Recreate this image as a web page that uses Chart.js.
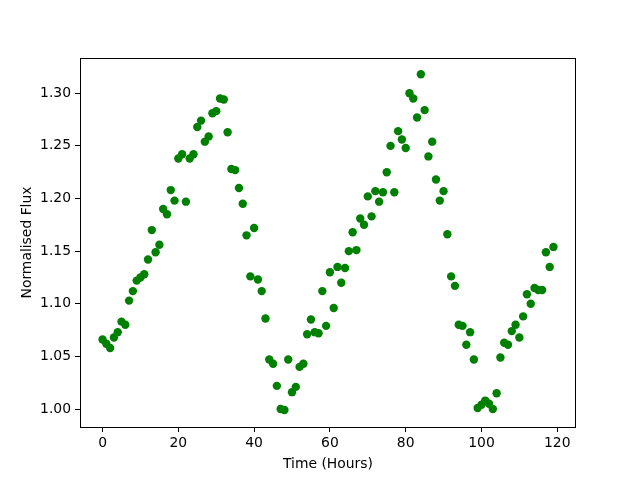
<!DOCTYPE html>
<html>
<head>
<meta charset="utf-8">
<script src="https://cdn.jsdelivr.net/npm/chart.js@4/dist/chart.umd.min.js"></script>
<style>
html,body{margin:0;padding:0;background:#fff;}
#wrap{width:640px;height:480px;}
</style>
</head>
<body>
<div id="wrap"><canvas id="c" width="640" height="480"></canvas></div>
<script>
const hours = [];
for (let h = 0; h < 120; h++) hours.push(h);
const flux = [
1.066,1.062,1.058,1.068,1.073,1.083,1.080,1.103,1.112,1.122,
1.125,1.128,1.142,1.170,1.149,1.156,1.190,1.185,1.208,1.198,
1.238,1.242,1.197,1.238,1.242,1.268,1.274,1.254,1.259,1.281,
1.283,1.295,1.294,1.263,1.228,1.227,1.210,1.195,1.165,1.126,
1.172,1.123,1.112,1.086,1.047,1.043,1.022,1.000,0.999,1.047,
1.016,1.021,1.040,1.043,1.071,1.085,1.073,1.072,1.112,1.079,
1.130,1.096,1.135,1.120,1.134,1.150,1.168,1.151,1.181,1.175,
1.202,1.183,1.207,1.197,1.206,1.225,1.250,1.206,1.264,1.256,
1.248,1.300,1.295,1.277,1.318,1.284,1.240,1.254,1.218,1.198,
1.207,1.166,1.126,1.117,1.080,1.079,1.061,1.073,1.047,1.001,
1.004,1.008,1.005,1.000,1.015,1.049,1.063,1.061,1.074,1.080,
1.068,1.088,1.109,1.100,1.115,1.113,1.113,1.149,1.135,1.154
];
const xTicks = [0, 20, 40, 60, 80, 100, 120];
const yTicks = [1.00, 1.05, 1.10, 1.15, 1.20, 1.25, 1.30];
const xLabel = 'Time (Hours)';
const yLabel = 'Normalised Flux';

const points = hours.map((h, i) => ({x: h, y: flux[i]}));

Chart.defaults.color = '#000';
Chart.defaults.font.family = 'DejaVu Sans';
Chart.defaults.font.size = 13.9;

const frame = {
  id: 'frame',
  afterDraw(chart) {
    const a = chart.chartArea, ctx = chart.ctx;
    ctx.save();
    ctx.strokeStyle = '#000';
    ctx.lineWidth = 1;
    ctx.strokeRect(Math.round(a.left) + 0.5, Math.round(a.top) + 0.5,
      Math.round(a.right - a.left) - 1, Math.round(a.bottom - a.top));
    ctx.restore();
  }
};

new Chart(document.getElementById('c'), {
  type: 'scatter',
  data: {
    datasets: [{
      data: points,
      backgroundColor: '#008000',
      borderWidth: 0,
      pointRadius: 4.2,
      pointHoverRadius: 4.2
    }]
  },
  options: {
    responsive: false,
    animation: false,
    layout: {padding: {left: 0, top: 58, right: 64, bottom: 0}},
    plugins: {legend: {display: false}, tooltip: {enabled: false}},
    scales: {
      x: {
        type: 'linear',
        min: -5.95, max: 124.95,
        afterBuildTicks(s) { s.ticks = xTicks.map(v => ({value: v})); },
        afterFit(s) { s.height = 53; },
        grid: {drawOnChartArea: false, drawTicks: true, tickLength: 5, color: '#000', lineWidth: 1},
        border: {display: false},
        ticks: {padding: 3, maxRotation: 0, autoSkip: false, callback: v => String(v)},
        title: {display: true, text: xLabel, padding: {top: 0, bottom: 7}}
      },
      y: {
        type: 'linear',
        min: 0.9829, max: 1.3335,
        afterBuildTicks(s) { s.ticks = yTicks.map(v => ({value: v})); },
        afterFit(s) { s.width = 80; },
        grid: {drawOnChartArea: false, drawTicks: true, tickLength: 5, color: '#000', lineWidth: 1},
        border: {display: false},
        ticks: {padding: 4, autoSkip: false, callback: v => Number(v).toFixed(2)},
        title: {display: true, text: yLabel, padding: {top: 19, bottom: 0}}
      }
    }
  },
  plugins: [frame]
});
</script>
</body>
</html>
